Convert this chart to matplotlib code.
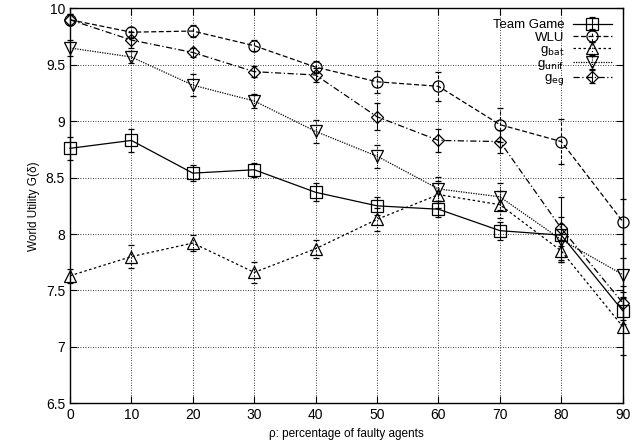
import matplotlib.pyplot as plt
import numpy as np

plt.rcParams['font.family'] = ['Liberation Sans', 'DejaVu Sans']

# percentage of faulty agents
rho = [0, 10, 20, 30, 40, 50, 60, 70, 80, 90]

team_game = [8.76, 8.83, 8.54, 8.57, 8.37, 8.25, 8.22, 8.03, 7.99, 7.32]
team_err  = [0.10, 0.10, 0.07, 0.06, 0.08, 0.08, 0.07, 0.08, 0.10, 0.12]

wlu     = [9.90, 9.79, 9.80, 9.67, 9.48, 9.35, 9.31, 8.97, 8.82, 8.11]
wlu_err = [0.05, 0.05, 0.05, 0.05, 0.05, 0.10, 0.13, 0.15, 0.20, 0.20]

g_bat     = [7.63, 7.80, 7.92, 7.66, 7.87, 8.13, 8.35, 8.26, 7.85, 7.18]
g_bat_err = [0.06, 0.10, 0.07, 0.09, 0.08, 0.10, 0.12, 0.12, 0.10, 0.25]

g_unif     = [9.65, 9.57, 9.32, 9.18, 8.91, 8.69, 8.40, 8.33, 7.95, 7.64]
g_unif_err = [0.07, 0.05, 0.10, 0.06, 0.10, 0.10, 0.11, 0.12, 0.20, 0.15]

g_eg     = [9.90, 9.72, 9.61, 9.44, 9.41, 9.04, 8.83, 8.82, 8.05, 7.39]
g_eg_err = [0.05, 0.07, 0.04, 0.05, 0.06, 0.12, 0.10, 0.10, 0.28, 0.15]

series = [
    ('Team Game', team_game, team_err, 's', '-', (0, (8, 0))),
    ('WLU', wlu, wlu_err, 'o', (0, (4, 2)), (0, (3, 2))),
    ('g$_{\\mathrm{bat}}$', g_bat, g_bat_err, '^', (0, (2, 2)), (0, (1, 2))),
    ('g$_{\\mathrm{unif}}$', g_unif, g_unif_err, 'v', (0, (1, 1)), (0, (1, 1))),
    ('g$_{\\mathrm{eg}}$', g_eg, g_eg_err, 'D', (0, (5, 2, 1, 2)), '-'),
]

fig = plt.figure(figsize=(6.42, 4.47), dpi=100)
ax = fig.add_axes([0.109, 0.098, 0.861, 0.883])

for label, vals, err, marker, ls, els in series:
    ms = 8 if marker != 'D' else 6.5
    cont = ax.errorbar(rho, vals, yerr=err, color='black', marker=marker, markersize=ms,
                       markerfacecolor='none', markeredgewidth=0.9, linewidth=0.9,
                       linestyle=ls, elinewidth=0.8, capsize=2.5, capthick=0.8, label=label)
    cont[0].set_clip_on(False)
    for bar in cont[2]:
        bar.set_linestyle(els)
        bar.set_clip_on(False)
    for cap in cont[1]:
        cap.set_clip_on(False)

ax.set_xlim(0, 90)
ax.set_ylim(6.5, 10)
ax.set_xticks(rho)
ax.set_yticks([6.5, 7, 7.5, 8, 8.5, 9, 9.5, 10])
ax.set_yticklabels(['6.5', '7', '7.5', '8', '8.5', '9', '9.5', '10'])
ax.grid(True, color='black', linestyle=(0, (1, 2)), linewidth=0.6)
ax.tick_params(direction='in', top=True, right=True, labelsize=10, length=5)
for s in ax.spines.values():
    s.set_linewidth(1.0)

ax.set_xlabel('ρ: percentage of faulty agents', fontsize=8.5)
ax.set_ylabel('World Utility G(δ)', fontsize=8.5)

leg = ax.legend(loc='upper right', frameon=False, markerfirst=False, fontsize=9.5,
                handlelength=3.0, labelspacing=0.0, borderaxespad=0.4, handletextpad=0.6)
for t in leg.get_texts():
    t.set_ha('right')

fig.savefig('out.png', dpi=100)
